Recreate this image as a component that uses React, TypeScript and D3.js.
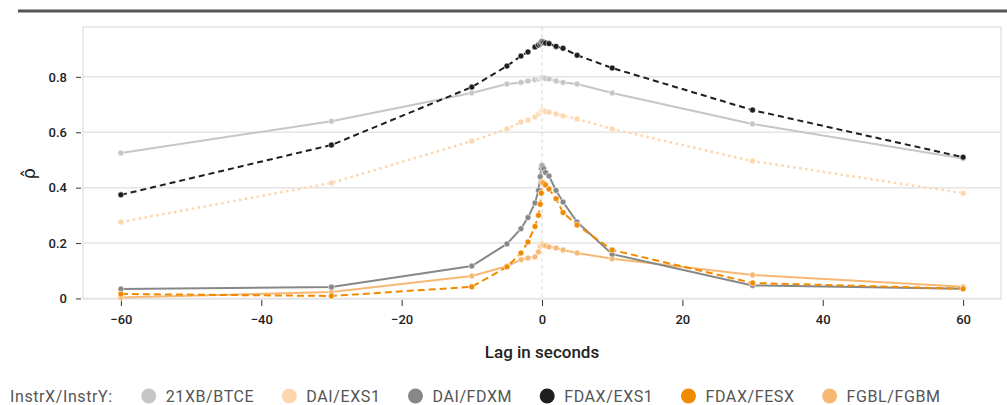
import React, { useEffect, useRef } from 'react';
import * as d3 from 'd3';

const width = 1007;
const height = 405;
const panel = { left: 83, right: 1001, top: 27, bottom: 299 };

const lags = [-60, -30, -10, -5, -3, -2, -1, -0.5, -0.25, -0.1, 0, 0.1, 0.25, 0.5, 1, 2, 3, 5, 10, 30, 60];

const btce = [0.525, 0.64, 0.742, 0.774, 0.78, 0.785, 0.79, 0.792, 0.795, 0.797, 0.798, 0.797, 0.796, 0.794, 0.792, 0.785, 0.78, 0.774, 0.742, 0.63, 0.505];
const daiExs1 = [0.276, 0.417, 0.568, 0.612, 0.637, 0.644, 0.655, 0.665, 0.672, 0.677, 0.68, 0.679, 0.677, 0.675, 0.672, 0.666, 0.659, 0.648, 0.612, 0.496, 0.38];
const daiFdxm = [0.034, 0.041, 0.117, 0.197, 0.252, 0.292, 0.345, 0.39, 0.44, 0.47, 0.48, 0.475, 0.468, 0.455, 0.442, 0.39, 0.348, 0.276, 0.16, 0.047, 0.035];
const fdaxExs1 = [0.374, 0.554, 0.763, 0.839, 0.875, 0.89, 0.908, 0.915, 0.92, 0.925, 0.928, 0.926, 0.924, 0.922, 0.92, 0.91, 0.903, 0.878, 0.832, 0.68, 0.51];
const fdaxFesx = [0.016, 0.009, 0.042, 0.114, 0.164, 0.204, 0.26, 0.3, 0.34, 0.38, 0.42, 0.418, 0.415, 0.41, 0.395, 0.36, 0.31, 0.265, 0.175, 0.056, 0.035];
const fgblFgbm = [0.003, 0.023, 0.081, 0.116, 0.14, 0.146, 0.15, 0.168, 0.19, 0.195, 0.197, 0.195, 0.192, 0.19, 0.186, 0.182, 0.175, 0.164, 0.143, 0.085, 0.042];

const seriesNames = ['21XB/BTCE', 'DAI/EXS1', 'DAI/FDXM', 'FDAX/EXS1', 'FDAX/FESX', 'FGBL/FGBM'];
const seriesValues = [btce, daiExs1, daiFdxm, fdaxExs1, fdaxFesx, fgblFgbm];
const colors = ['#c6c6c6', '#fdd6ae', '#878787', '#1e1e1e', '#f08a00', '#f7b874'];
const dashes = ['none', '2.5,3.5', 'none', '6,4', '7,4', 'none'];
const widths = [2, 2.5, 2, 2, 2, 2];

const xTicks = [-60, -40, -20, 0, 20, 40, 60];
const yTicks = [0, 0.2, 0.4, 0.6, 0.8];

const font = 'Roboto, "DejaVu Sans", sans-serif';

export default function App() {
  const ref = useRef<SVGSVGElement>(null);

  useEffect(() => {
    const svg = d3.select(ref.current);
    svg.selectAll('*').remove();

    const x = d3.scaleLinear().domain([-65.4, 65.4]).range([panel.left, panel.right]);
    const y = d3.scaleLinear().domain([-0.002, 0.98]).range([panel.bottom, panel.top]);

    // top rule
    svg.append('line').attr('x1', 18).attr('x2', width).attr('y1', 11).attr('y2', 11)
      .attr('stroke', '#555').attr('stroke-width', 3);

    // gridlines
    svg.append('g').selectAll('line').data(yTicks).join('line')
      .attr('x1', panel.left).attr('x2', panel.right)
      .attr('y1', d => y(d)).attr('y2', d => y(d))
      .attr('stroke', '#e4e4e4').attr('stroke-width', 1.5);

    // panel border
    svg.append('rect').attr('x', panel.left).attr('y', panel.top)
      .attr('width', panel.right - panel.left).attr('height', panel.bottom - panel.top)
      .attr('fill', 'none').attr('stroke', '#e4e4e4').attr('stroke-width', 1.5);

    // zero lag line
    svg.append('line').attr('x1', x(0)).attr('x2', x(0)).attr('y1', panel.top).attr('y2', panel.bottom)
      .attr('stroke', '#d8d8d8').attr('stroke-dasharray', '4,3').attr('stroke-width', 1);

    // y axis
    const yAxis = d3.axisLeft(y).tickValues(yTicks).tickSize(5).tickPadding(9)
      .tickFormat(d => (d === 0 ? '0' : d3.format('.1f')(d as number)));
    const gy = svg.append('g').attr('transform', `translate(${panel.left - 2},0)`).call(yAxis);
    gy.select('.domain').remove();
    gy.selectAll('line').attr('stroke', '#333');
    gy.selectAll('text').attr('font-family', font).attr('font-size', 13).attr('font-weight', 500).attr('fill', '#222');

    // x axis
    const xAxis = d3.axisBottom(x).tickValues(xTicks).tickSize(6).tickPadding(9).tickFormat(d3.format('d'));
    const gx = svg.append('g').attr('transform', `translate(0,${panel.bottom + 1})`).call(xAxis);
    gx.select('.domain').remove();
    gx.selectAll('line').attr('stroke', '#333');
    gx.selectAll('text').attr('font-family', font).attr('font-size', 13).attr('font-weight', 500).attr('fill', '#222');

    svg.append('text').attr('x', x(0)).attr('y', 358).attr('text-anchor', 'middle')
      .attr('font-family', font).attr('font-size', 17).attr('font-weight', 500).attr('fill', '#222')
      .text('Lag in seconds');

    svg.append('text').attr('transform', `translate(35,${y(0.45)}) rotate(-90)`).attr('text-anchor', 'middle')
      .attr('font-family', font).attr('font-size', 18).attr('fill', '#222')
      .text('ρ̂');

    // series
    const line = d3.line<number>().x((_, i) => x(lags[i])).y(d => y(d));
    const drawOrder = [0, 1, 5, 2, 4, 3];
    drawOrder.forEach(s => {
      const g = svg.append('g');
      g.append('path').attr('d', line(seriesValues[s]) as string)
        .attr('fill', 'none').attr('stroke', colors[s]).attr('stroke-width', widths[s])
        .attr('stroke-dasharray', dashes[s]);
      g.selectAll('circle').data(seriesValues[s]).join('circle')
        .attr('cx', (_, i) => x(lags[i])).attr('cy', d => y(d)).attr('r', 3)
        .attr('fill', colors[s]).attr('stroke', '#fff').attr('stroke-width', 0.6);
    });

    // legend
    const lg = svg.append('g').attr('transform', 'translate(0,396)');
    const title = lg.append('text').attr('x', 10).attr('y', 6)
      .attr('font-family', font).attr('font-size', 16).attr('letter-spacing', 0.6)
      .attr('fill', '#555').text('InstrX/InstrY:');
    let cx = 10 + (title.node() as SVGTextElement).getComputedTextLength() + 36;
    seriesNames.forEach((name, i) => {
      lg.append('circle').attr('cx', cx).attr('cy', 0).attr('r', 7.5).attr('fill', colors[i]);
      const t = lg.append('text').attr('x', cx + 17).attr('y', 6)
        .attr('font-family', font).attr('font-size', 16).attr('letter-spacing', 0.6)
        .attr('fill', '#555').text(name);
      cx += 17 + (t.node() as SVGTextElement).getComputedTextLength() + 35;
    });
  }, []);

  return (
    <svg ref={ref} width={width} height={height}
      style={{ position: 'absolute', left: 0, top: 0, background: '#fff' }} />
  );
}
